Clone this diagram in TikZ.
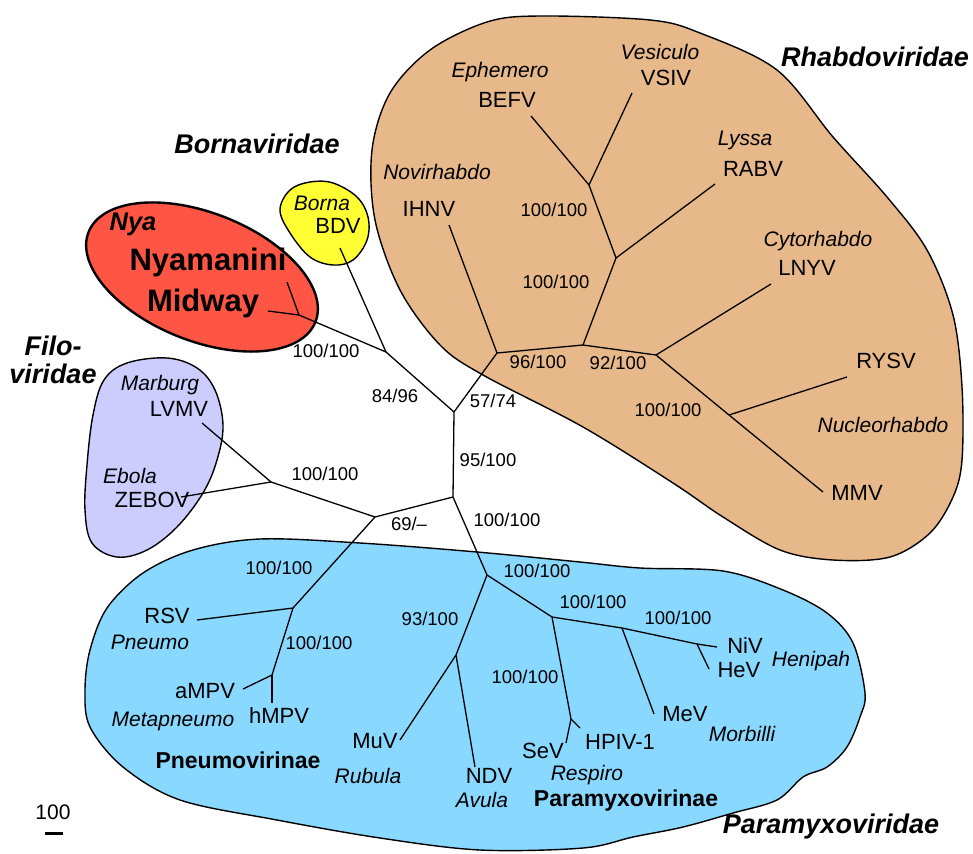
\documentclass[tikz,border=0pt]{standalone}
\usepackage{fontspec}
\setmainfont{Liberation Sans}
\definecolor{rhabdo}{RGB}{230,184,138}
\definecolor{para}{RGB}{137,216,255}
\definecolor{filo}{RGB}{204,204,255}
\definecolor{nya}{RGB}{255,85,68}
\definecolor{borna}{RGB}{255,255,51}
\tikzset{
  lab/.style={inner sep=0pt, text height=0.72em, text depth=0pt},
  tx/.style={lab, font=\fontsize{22}{22}\selectfont},
  bs/.style={lab, font=\fontsize{18.5}{18.5}\selectfont},
  gen/.style={lab, font=\fontsize{21}{21}\selectfont\itshape},
  fam/.style={lab, font=\fontsize{27}{27}\selectfont\bfseries\itshape},
  subf/.style={lab, font=\fontsize{23}{23}\selectfont\bfseries},
  nyab/.style={lab, font=\fontsize{31}{31}\selectfont\bfseries},
  br/.style={line width=1.3pt, line join=round},
  blob/.style={line width=1.4pt, draw=black}
}
\begin{document}
\begin{tikzpicture}[x=1pt,y=-1pt]
\useasboundingbox (0,0) rectangle (973,853);

% ---------- clade outlines ----------
\draw[blob, fill=rhabdo] plot[smooth cycle, tension=0.55] coordinates {
 (540,16) (650,20) (700,33) (777,70) (833,137) (887,197) (927,250) (953,315)
 (962,387) (962,460) (953,497) (930,533) (890,557) (833,560) (780,550)
 (723,517) (673,483) (583,427) (483,375) (440,345) (400,290) (375,220)
 (372,150) (390,93) (430,50) (487,22)};

\draw[blob, fill=para] plot[smooth cycle, tension=0.55] coordinates {
 (107,608) (143,573) (193,550) (260,539) (360,543) (477,552) (580,562)
 (640,568) (723,571) (783,590) (827,613) (853,643) (865,693) (860,717)
 (847,747) (827,767) (803,777) (777,800) (733,813) (683,827) (633,837)
 (583,848) (480,850) (380,838) (277,820) (180,800) (123,767) (90,727)
 (85,690) (90,650)};

\draw[blob, fill=filo] plot[smooth cycle, tension=0.6] coordinates {
 (127,363) (104,380) (93,415) (87,465) (85,510) (92,543) (117,557)
 (147,550) (177,527) (203,493) (217,460) (223,425) (215,390) (197,368)
 (167,358)};

\draw[blob, fill=borna] plot[smooth cycle, tension=0.6] coordinates {
 (280,210) (290,190) (310,182) (333,183) (357,197) (368,217) (367,240)
 (353,260) (333,265) (310,257) (290,233)};

\draw[line width=2.4pt, fill=nya, rotate around={-21.6:(202,277)}]
  (202,277) ellipse [x radius=122pt, y radius=64pt];

% ---------- tree coordinates ----------
\coordinate (nA) at (589,185);
\coordinate (nB) at (616,258);
\coordinate (nC) at (583,345);
\coordinate (nD) at (497,353);
\coordinate (nE) at (656,355);
\coordinate (nF) at (729,415);
\coordinate (nG) at (454,412);
\coordinate (nH) at (453,497);
\coordinate (nI) at (386,352);
\coordinate (nJ) at (299,315);
\coordinate (nL) at (375,517);
\coordinate (nK) at (271,482);
\coordinate (nM) at (293,608);
\coordinate (nN) at (272,675);
\coordinate (nP) at (487,575);
\coordinate (nO) at (456,655);
\coordinate (nQ) at (552,617);
\coordinate (nT) at (571,719);
\coordinate (nR) at (622,628);
\coordinate (nS) at (697,644);

\coordinate (tBEFV) at (531,116);
\coordinate (tVSIV) at (632,93);
\coordinate (tRABV) at (715,184);
\coordinate (tIHNV) at (449,225);
\coordinate (tLNYV) at (771,284);
\coordinate (tRYSV) at (847,377);
\coordinate (tMMV) at (823,492);
\coordinate (tBDV) at (340,248);
\coordinate (tNyam) at (287,282);
\coordinate (tMid) at (268,311);
\coordinate (tLVMV) at (202,423);
\coordinate (tZEBOV) at (181,497);
\coordinate (tRSV) at (197,620);
\coordinate (taMPV) at (243,689);
\coordinate (thMPV) at (272,703);
\coordinate (tMuV) at (400,740);
\coordinate (tNDV) at (475,767);
\coordinate (tSeV) at (566,743);
\coordinate (tHPIV) at (580,728);
\coordinate (tMeV) at (654,714);
\coordinate (tNiV) at (717,647);
\coordinate (tHeV) at (709,669);

% ---------- branches ----------
\draw[br] (tBEFV) -- (nA) -- (tVSIV);
\draw[br] (nA) -- (nB) -- (tRABV);
\draw[br] (nB) -- (nC) -- (nD) -- (tIHNV);
\draw[br] (nC) -- (nE) -- (tLNYV);
\draw[br] (nE) -- (nF) -- (tMMV);
\draw[br] (nF) -- (tRYSV);
\draw[br] (nD) -- (nG) -- (nH);
\draw[br] (nG) -- (nI) -- (tBDV);
\draw[br] (nI) -- (nJ) -- (tNyam);
\draw[br] (nJ) -- (tMid);
\draw[br] (nH) -- (nL) -- (nK) -- (tLVMV);
\draw[br] (nK) -- (tZEBOV);
\draw[br] (nL) -- (nM) -- (tRSV);
\draw[br] (nM) -- (nN) -- (taMPV);
\draw[br] (nN) -- (thMPV);
\draw[br] (nH) -- (nP) -- (nO) -- (tMuV);
\draw[br] (nO) -- (tNDV);
\draw[br] (nP) -- (nQ) -- (nT) -- (tSeV);
\draw[br] (nT) -- (tHPIV);
\draw[br] (nQ) -- (nR) -- (tMeV);
\draw[br] (nR) -- (nS) -- (tNiV);
\draw[br] (nS) -- (tHeV);

% ---------- family labels ----------
\node[fam] (fRhab) at (875,63) {Rhabdoviridae};
\node[fam] (fBorna) at (257,150) {Bornaviridae};
\node[fam] (fFilo1) at (53,352) {Filo-};
\node[fam] (fFilo2) at (53,380) {viridae};
\node[fam] (fPara) at (831,830) {Paramyxoviridae};
\node[lab, font=\fontsize{25.5}{25.5}\selectfont\bfseries\itshape] (fNya) at (133,227) {Nya};
\node[subf] (sPneu) at (238,765) {Pneumovirinae};
\node[subf] (sPara) at (626,803) {Paramyxovirinae};

% ---------- taxon labels ----------
\node[tx] (lBEFV) at (507,104) {BEFV};
\node[tx] (lVSIV) at (666,82) {VSIV};
\node[tx] (lRABV) at (753,173) {RABV};
\node[tx] (lIHNV) at (429,213) {IHNV};
\node[tx] (lLNYV) at (807,272) {LNYV};
\node[tx] (lRYSV) at (886,365) {RYSV};
\node[tx] (lMMV) at (857,497) {MMV};
\node[tx] (lBDV) at (338,230) {BDV};
\node[nyab] (lNyam) at (208,267) {Nyamanini};
\node[nyab] (lMid) at (203,308) {Midway};
\node[tx] (lLVMV) at (179,413) {LVMV};
\node[tx] (lZEBOV) at (152,504) {ZEBOV};
\node[tx] (lRSV) at (167,620) {RSV};
\node[tx] (laMPV) at (205,695) {aMPV};
\node[tx] (lhMPV) at (279,720) {hMPV};
\node[tx] (lMuV) at (375,745) {MuV};
\node[tx] (lNDV) at (489,780) {NDV};
\node[tx] (lSeV) at (543,755) {SeV};
\node[tx] (lHPIV) at (620,746) {HPIV-1};
\node[tx] (lMeV) at (685,718) {MeV};
\node[tx] (lNiV) at (745,650) {NiV};
\node[tx] (lHeV) at (739,674) {HeV};

% ---------- genus labels ----------
\node[gen] (gEph) at (500,74) {Ephemero};
\node[gen] (gVes) at (660,56) {Vesiculo};
\node[gen] (gLys) at (745,142) {Lyssa};
\node[gen] (gNov) at (437,176) {Novirhabdo};
\node[gen] (gCyt) at (818,243) {Cytorhabdo};
\node[gen] (gNuc) at (883,429) {Nucleorhabdo};
\node[gen] (gBorna) at (322,207) {Borna};
\node[gen] (gMar) at (160,387) {Marburg};
\node[gen] (gEbo) at (130,480) {Ebola};
\node[gen] (gPneu) at (150,646) {Pneumo};
\node[gen] (gMeta) at (173,723) {Metapneumo};
\node[gen] (gRub) at (368,780) {Rubula};
\node[gen] (gAvu) at (482,804) {Avula};
\node[gen] (gRes) at (587,777) {Respiro};
\node[gen] (gMor) at (742,738) {Morbilli};
\node[gen] (gHen) at (811,663) {Henipah};

% ---------- support values ----------
\node[bs] (b1) at (554,213) {100/100};
\node[bs] (b2) at (556,285) {100/100};
\node[bs] (b3) at (538,365) {96/100};
\node[bs] (b4) at (618,366) {92/100};
\node[bs] (b5) at (668,413) {100/100};
\node[bs] (b6) at (493,404) {57/74};
\node[bs] (b7) at (395,399) {84/96};
\node[bs] (b8) at (488,463) {95/100};
\node[bs] (b9) at (326,354) {100/100};
\node[bs] (b10) at (325,477) {100/100};
\node[bs] (b11) at (409,527) {69/\textendash};
\node[bs] (b12) at (507,523) {100/100};
\node[bs] (b13) at (279,571) {100/100};
\node[bs] (b14) at (319,646) {100/100};
\node[bs] (b15) at (430,622) {93/100};
\node[bs] (b16) at (537,574) {100/100};
\node[bs] (b17) at (593,605) {100/100};
\node[bs] (b18) at (678,621) {100/100};
\node[bs] (b19) at (525,680) {100/100};

% ---------- scale bar ----------
\node[lab, font=\fontsize{21}{21}\selectfont] (scl) at (53,816) {100};
\coordinate (sb1) at (45,833);
\coordinate (sb2) at (63,833);
\draw[line width=3pt] (sb1) -- (sb2);
\end{tikzpicture}
\end{document}
